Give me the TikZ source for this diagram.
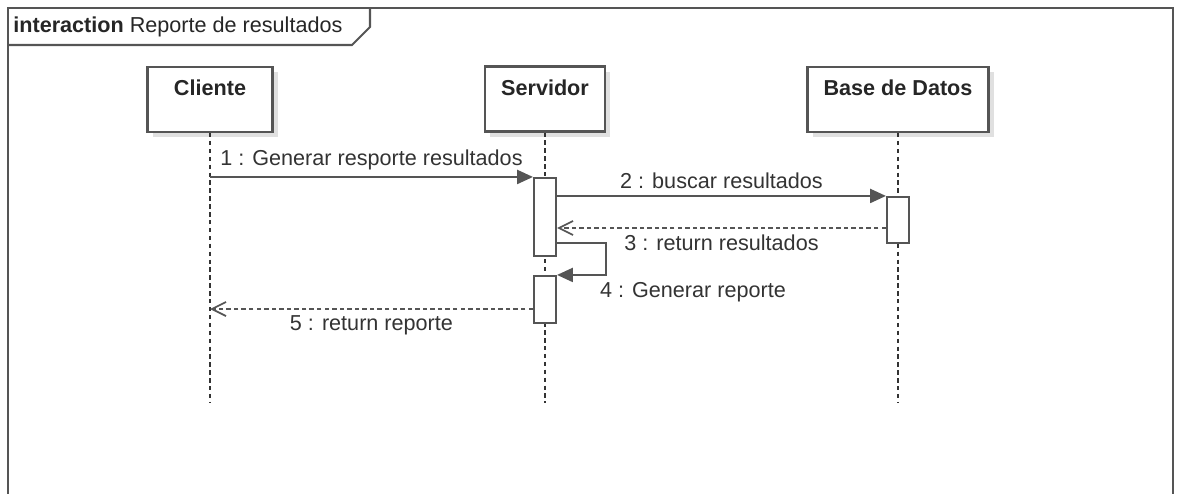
\documentclass[tikz,border=0pt]{standalone}
\usepackage{fontspec}
\setmainfont{Liberation Sans}
\usetikzlibrary{arrows.meta,shadows}
\definecolor{umlline}{HTML}{555555}
\definecolor{umltext}{HTML}{333333}
\newcommand{\umlsize}{\fontsize{12.3}{14}\selectfont}
\tikzset{
  lifebox/.style={draw=umlline,line width=1.2pt,fill=white,minimum width=2.5cm,minimum height=1.3cm,
    drop shadow={shadow xshift=3pt,shadow yshift=-3pt,fill=black!12,opacity=1}},
  lifename/.style={font=\umlsize\bfseries,text=black!85},
  lifeline/.style={black!80,line width=0.9pt,dash pattern=on 2.5pt off 2pt},
  act/.style={draw=umlline,line width=1.2pt,fill=white,minimum width=0.44cm,inner sep=0pt},
  msg/.style={umlline,line width=1.1pt,-{Triangle[length=9pt,width=8pt]}},
  ret/.style={umlline,line width=1pt,dash pattern=on 2.5pt off 1.8pt,-{Straight Barb[length=8pt,width=8pt]}},
  lbl/.style={text=umltext}
}
\begin{document}
\begin{tikzpicture}[x=0.02cm,y=-0.02cm,font=\umlsize]
  \useasboundingbox (0,0) rectangle (1178,494);
  % frame
  \draw[umlline,line width=1.2pt] (8,500) -- (8,8) -- (1173,8) -- (1173,500);
  \draw[umlline,line width=1.2pt] (8,45) -- (352,45) -- (370,27) -- (370,8);
  \node[anchor=west,text=black!85,inner sep=0pt] (title) at (13,27) {\textbf{interaction} Reporte de resultados};

  % lifeline heads
  \node[lifebox] (cliente) at (210,99.5) {};
  \node[lifename] (clientename) at (210,88) {Cliente};
  \node[lifebox,minimum width=2.4cm] (servidor) at (545,99) {};
  \node[lifename] (servidorname) at (545,88) {Servidor};
  \node[lifebox,minimum width=3.62cm] (base) at (898,99.5) {};
  \node[lifename] (basename) at (898,88) {Base de Datos};

  % lifelines
  \coordinate (clienteend) at (210,403);
  \coordinate (servidorend) at (545,403);
  \coordinate (baseend) at (898,403);
  \draw[lifeline] (cliente.south) -- (clienteend);
  \draw[lifeline] (servidor.south) -- (servidorend);
  \draw[lifeline] (base.south) -- (baseend);

  % activations
  \node[act,minimum height=1.56cm] (act1) at (545,217) {};
  \node[act,minimum height=0.92cm] (act2) at (898,220) {};
  \node[act,minimum height=0.94cm] (act3) at (545,299.5) {};

  % messages
  \draw[msg] (act1.north west -| clienteend) -- node[lbl,above] {1 : Generar resporte resultados} (act1.north west);
  \draw[msg] (act2.north west -| act1.east) -- node[lbl,above] {2 : buscar resultados} (act2.north west);
  \draw[ret] (act2.west |- 0,228) -- node[lbl,below] {3 : return resultados} (act1.east |- 0,228);
  \coordinate (self) at (606,243);
  \draw[msg] (act1.east |- self) -- (self) |- (act3.north east);
  \node[lbl] (selflabel) at (693,292) {4 : Generar reporte};
  \draw[ret] (act3.west |- 0,309) -- node[lbl,below] {5 : return reporte} (clienteend |- 0,309);
\end{tikzpicture}
\end{document}
